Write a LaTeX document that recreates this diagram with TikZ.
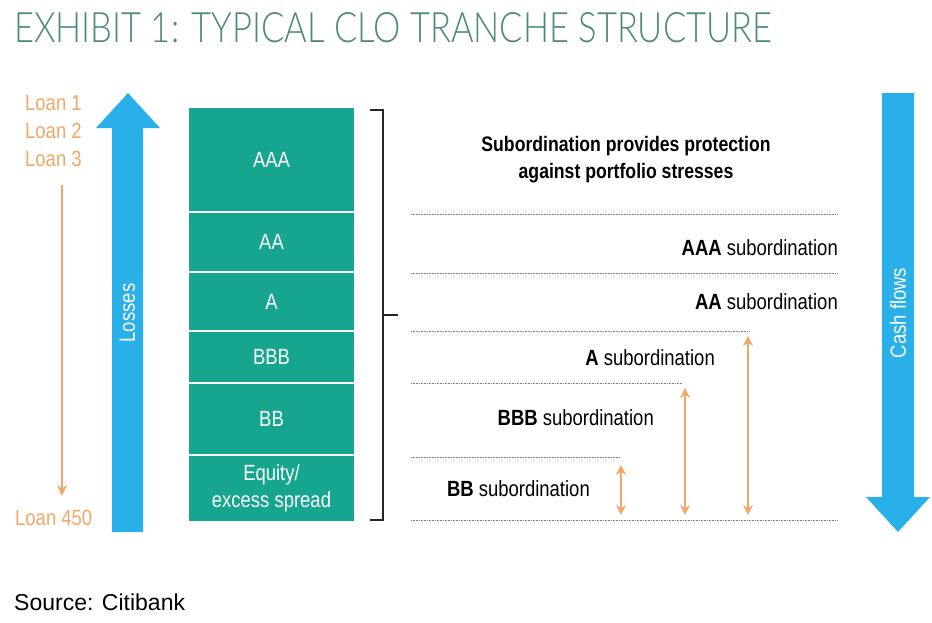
\documentclass[tikz,border=0pt]{standalone}
\usepackage{fontspec}
\setmainfont{Liberation Sans}
\newfontfamily\cond[FakeStretch=0.84]{Liberation Sans}
\newfontfamily\ttlfont{Lato Light}
\usetikzlibrary{arrows.meta}
\definecolor{teal}{HTML}{16A58E}
\definecolor{sky}{HTML}{2AB0E8}
\definecolor{org}{HTML}{F0A868}
\definecolor{ttl}{HTML}{4E8A7C}
\begin{document}
\begin{tikzpicture}[x=1pt,y=-1pt,
  loan/.style={text=org,font=\cond\fontsize{22}{22}\selectfont,anchor=west,inner sep=0},
  tr/.style={fill=teal,draw=white,line width=1.5pt,text=white,font=\cond\fontsize{22}{27}\selectfont,align=center},
  sub/.style={font=\cond\fontsize{22}{22}\selectfont,anchor=east,inner sep=0},
  dots/.style={densely dotted,gray,line width=0.6pt},
  oarr/.style={org,line width=1.8pt,{Stealth[length=10pt,width=10pt]}-{Stealth[length=10pt,width=10pt]}}]
\useasboundingbox (0,0) rectangle (932,622);
\node[anchor=west,inner sep=0,text=ttl] (title) at (14,28) {\resizebox{758pt}{30pt}{\ttlfont EXHIBIT 1: TYPICAL CLO TRANCHE STRUCTURE}};
% loans
\node[loan] (l1) at (25,103) {Loan 1};
\node[loan] (l2) at (25,131) {Loan 2};
\node[loan] (l3) at (25,159) {Loan 3};
\node[loan] (l450) at (15,518) {Loan 450};
\draw[org,line width=1.3pt,-{Stealth[length=11pt,width=10pt]}] (62,185) -- (62,496);
% losses arrow
\fill[sky] (112,532) -- (112,128) -- (96,128) -- (128,93) -- (160,128) -- (143,128) -- (143,532) -- cycle;
\node[rotate=90,text=white,font=\cond\fontsize{22}{22}\selectfont] (loss) at (127.5,313) {Losses};
% cash flows arrow
\fill[sky] (882,93) -- (882,497) -- (866,497) -- (898,532) -- (930,497) -- (914,497) -- (914,93) -- cycle;
\node[rotate=90,text=white,font=\cond\fontsize{22}{22}\selectfont] (cash) at (898,313) {Cash flows};
% tranches
\node[tr,minimum width=167pt,minimum height=105pt] (aaa) at (271.5,159.5) {AAA};
\node[tr,minimum width=167pt,minimum height=60pt] (aa) at (271.5,242) {AA};
\node[tr,minimum width=167pt,minimum height=59pt] (a) at (271.5,301.5) {A};
\node[tr,minimum width=167pt,minimum height=52pt] (bbb) at (271.5,357) {BBB};
\node[tr,minimum width=167pt,minimum height=72pt] (bb) at (271.5,419) {BB};
\node[tr,minimum width=167pt,minimum height=67pt] (eq) at (271.5,488.5) {Equity/\\excess spread};
% bracket
\draw[line width=1.3pt,black!85] (370,110) -- (383,110) -- (383,520) -- (370,520);
\draw[line width=1.3pt,black!85] (383,315) -- (398,315);
% header
\node[font=\cond\bfseries\fontsize{21}{27}\selectfont,align=center] (hdr) at (626,160) {Subordination provides protection\\against portfolio stresses};
% dotted lines
\draw[dots] (411,214) -- (838,214);
\draw[dots] (411,273) -- (838,273);
\draw[dots] (411,331) -- (750,331);
\draw[dots] (411,383) -- (683,383);
\draw[dots] (411,457) -- (620,457);
\draw[dots] (411,520) -- (838,520);
% labels
\node[sub] (s1) at (838,248) {\textbf{AAA} subordination};
\node[sub] (s2) at (838,302) {\textbf{AA} subordination};
\node[sub] (s3) at (715,358) {\textbf{A} subordination};
\node[sub] (s4) at (654,418) {\textbf{BBB} subordination};
\node[sub] (s5) at (590,489) {\textbf{BB} subordination};
% double arrows
\draw[oarr] (748,336) -- (748,515);
\draw[oarr] (685,388) -- (685,515);
\draw[oarr] (621,465) -- (621,515);
\node[anchor=west,inner sep=0,font=\fontsize{23}{23}\selectfont] (src) at (14,602) {Source: Citibank};
\end{tikzpicture}
\end{document}
